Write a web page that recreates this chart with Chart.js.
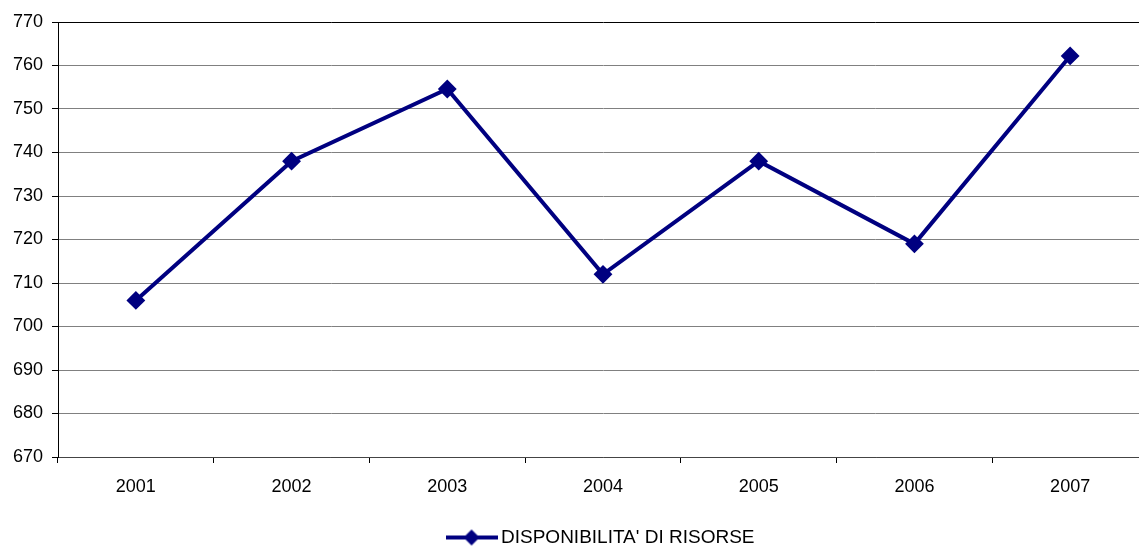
<!DOCTYPE html>
<html>
<head>
<meta charset="utf-8">
<script src="https://cdn.jsdelivr.net/npm/chart.js@4/dist/chart.umd.min.js"></script>
<style>
  html, body { margin: 0; padding: 0; background: #fff; overflow: hidden; }
  #frame { position: relative; width: 1139px; height: 546px; overflow: hidden; }
  #chart { position: absolute; left: 0; top: 0; }
</style>
</head>
<body>
<div id="frame"><canvas id="chart" width="1158" height="546"></canvas></div>
<script>
const years = ["2001", "2002", "2003", "2004", "2005", "2006", "2007"];
const risorse = [706, 738, 754.6, 712, 738, 719, 762.2];
const yMin = 670;
const yMax = 770;
const yStep = 10;

const navy = "#000080";
const font = { family: "Arial, 'Liberation Sans', sans-serif", size: 18 };

// legend sample: line with a diamond in the middle
function legendSymbol() {
  const c = document.createElement("canvas");
  c.width = 52;
  c.height = 18;
  const g = c.getContext("2d");
  g.strokeStyle = navy;
  g.lineWidth = 4;
  g.beginPath();
  g.moveTo(0, 9);
  g.lineTo(52, 9);
  g.stroke();
  g.fillStyle = navy;
  g.beginPath();
  g.moveTo(26, 1);
  g.lineTo(34, 9);
  g.lineTo(26, 17);
  g.lineTo(18, 9);
  g.closePath();
  g.fill();
  return c;
}

new Chart(document.getElementById("chart"), {
  type: "line",
  data: {
    labels: years,
    datasets: [
      {
        label: "DISPONIBILITA' DI RISORSE",
        data: risorse,
        borderColor: navy,
        backgroundColor: navy,
        borderWidth: 4,
        pointStyle: "rectRot",
        pointRadius: 8,
        pointBorderWidth: 2,
        pointBorderColor: navy,
        pointBackgroundColor: navy,
        tension: 0,
      },
    ],
  },
  options: {
    responsive: false,
    animation: false,
    layout: { padding: { top: 22, right: 10, left: 0, bottom: -11 } },
    plugins: {
      tooltip: { enabled: false },
      legend: {
        position: "bottom",
        fullSize: false,
        labels: {
          usePointStyle: true,
          pointStyle: legendSymbol(),
          pointStyleWidth: 40,
          boxHeight: 18,
          padding: 0,
          color: "#000",
          font: { family: font.family, size: 19 },
        },
      },
    },
    scales: {
      x: {
        offset: true,
        afterFit: (scale) => { scale.height = 71; },
        grid: {
          offset: true,
          drawOnChartArea: false,
          drawTicks: true,
          tickLength: 6,
          color: "#000",
        },
        border: { color: "#444", width: 1 },
        ticks: { color: "#000", font: font, padding: 13 },
      },
      y: {
        min: yMin,
        max: yMax,
        afterFit: (scale) => { scale.width = 58; },
        ticks: { stepSize: yStep, color: "#000", font: font, padding: 9 },
        grid: {
          color: (ctx) => (ctx.tick && ctx.tick.value === yMax ? "#000" : "#808080"),
          lineWidth: 1,
          tickLength: 6,
          tickColor: "#000",
        },
        border: { color: "#000", width: 1 },
      },
    },
  },
});
</script>
</body>
</html>
